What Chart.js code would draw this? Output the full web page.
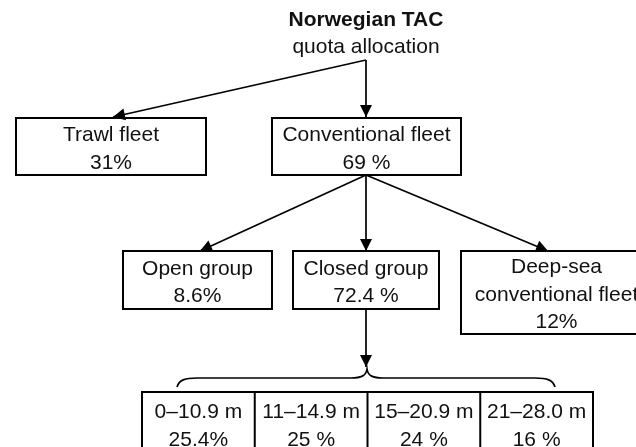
<!DOCTYPE html>
<html lang="en">
<head>
<meta charset="UTF-8" />
<title>Norwegian TAC quota allocation</title>
<script src="https://cdn.jsdelivr.net/npm/chart.js"></script>
<style>
  html, body { margin: 0; padding: 0; background: #fff; }
  canvas { display: block; }
</style>
</head>
<body>
<canvas id="tree" width="636" height="447"></canvas>
<script>
// ---- data ----
const titleLines = ['Norwegian TAC', 'quota allocation'];
const fleetNames = [['Trawl fleet'], ['Conventional fleet']];
const fleetShares = ['31%', '69 %'];
const groupNames = [['Open group'], ['Closed group'], ['Deep-sea', 'conventional fleet']];
const groupShares = ['8.6%', '72.4 %', '12%'];
const lengthNames = ['0–10.9 m', '11–14.9 m', '15–20.9 m', '21–28.0 m'];
const lengthShares = ['25.4%', '25 %', '24 %', '16 %'];

// ---- layout (axis units: x 0..636, y 0..447 top-down) ----
const rootAt = [366, 60];
const fleetBoxes = [[16, 118, 206, 175], [272, 118, 461, 175]];
const fleetTips = [113, 366];
const groupBoxes = [[123, 251, 272, 309], [293, 251, 439, 309], [461, 251, 662, 334]];
const groupTips = [200, 366, 548];
const lengthRow = [142, 392, 593, 455];
const braceSpan = [177, 555, 367];
const LINE = 27.5;
const FONT = '"Liberation Sans", Arial, sans-serif';

// arrows as line datasets: from -> tip
const arrows = [];
fleetBoxes.forEach((b, i) => arrows.push([rootAt, [fleetTips[i], b[1] - 1]]));
const convBottom = [366, fleetBoxes[1][3]];
groupBoxes.forEach((b, i) => arrows.push([convBottom, [groupTips[i], b[1]]]));
const closed = groupBoxes[1];
arrows.push([[366, closed[3]], [366, 367]]);

const datasets = arrows.map(a => ({
  data: a.map(p => ({ x: p[0], y: p[1] })),
  showLine: true,
  borderColor: '#000',
  borderWidth: 1.7,
  pointRadius: 0,
  fill: false
}));

function drawLines(ctx, lines, cx, cy, spacing) {
  const top = cy - (lines.length - 1) * spacing / 2;
  lines.forEach((t, i) => ctx.fillText(t, cx, top + i * spacing));
}

const treePlugin = {
  id: 'tree',
  afterDatasetsDraw(chart) {
    const ctx = chart.ctx;
    const sx = v => chart.scales.x.getPixelForValue(v);
    const sy = v => chart.scales.y.getPixelForValue(v);

    ctx.save();
    // arrowheads
    ctx.fillStyle = '#000';
    chart.data.datasets.forEach((ds, i) => {
      const pts = chart.getDatasetMeta(i).data;
      const a = pts[0], b = pts[pts.length - 1];
      const ang = Math.atan2(b.y - a.y, b.x - a.x);
      const len = 12, half = 6;
      ctx.beginPath();
      ctx.moveTo(b.x, b.y);
      ctx.lineTo(b.x - len * Math.cos(ang) + half * Math.sin(ang), b.y - len * Math.sin(ang) - half * Math.cos(ang));
      ctx.lineTo(b.x - len * Math.cos(ang) - half * Math.sin(ang), b.y - len * Math.sin(ang) + half * Math.cos(ang));
      ctx.closePath();
      ctx.fill();
    });

    // boxes
    ctx.strokeStyle = '#000';
    ctx.lineWidth = 2;
    const box = b => ctx.strokeRect(sx(b[0]), sy(b[1]), sx(b[2]) - sx(b[0]), sy(b[3]) - sy(b[1]));
    fleetBoxes.forEach(box);
    groupBoxes.forEach(box);
    box(lengthRow);
    const cellW = (lengthRow[2] - lengthRow[0]) / lengthNames.length;
    for (let i = 1; i < lengthNames.length; i++) {
      const x = sx(lengthRow[0] + i * cellW);
      ctx.beginPath();
      ctx.moveTo(x, sy(lengthRow[1]));
      ctx.lineTo(x, sy(lengthRow[3]));
      ctx.stroke();
    }

    // brace
    const [bl, br, bm] = braceSpan;
    const yEnd = 387, yMid = 378, yPeak = 369;
    ctx.lineWidth = 1.7;
    ctx.beginPath();
    ctx.moveTo(sx(bl), sy(yEnd));
    ctx.bezierCurveTo(sx(bl + 2), sy(yMid + 2), sx(bl + 8), sy(yMid), sx(bl + 20), sy(yMid));
    ctx.lineTo(sx(bm - 16), sy(yMid));
    ctx.bezierCurveTo(sx(bm - 6), sy(yMid), sx(bm - 1), sy(yMid - 2), sx(bm), sy(yPeak));
    ctx.bezierCurveTo(sx(bm + 1), sy(yMid - 2), sx(bm + 6), sy(yMid), sx(bm + 16), sy(yMid));
    ctx.lineTo(sx(br - 20), sy(yMid));
    ctx.bezierCurveTo(sx(br - 8), sy(yMid), sx(br - 2), sy(yMid + 2), sx(br), sy(yEnd));
    ctx.stroke();

    // texts
    ctx.fillStyle = '#111';
    ctx.textAlign = 'center';
    ctx.textBaseline = 'middle';
    ctx.font = 'bold 21px ' + FONT;
    ctx.fillText(titleLines[0], sx(rootAt[0]), sy(20));
    ctx.font = '21px ' + FONT;
    ctx.fillText(titleLines[1], sx(rootAt[0]), sy(47));

    const label = (b, lines, dx) => {
      const cx = sx((b[0] + b[2]) / 2 + (dx || 0));
      const cy = sy((b[1] + b[3]) / 2 + 2.5);
      drawLines(ctx, lines, cx, cy, LINE);
    };
    fleetBoxes.forEach((b, i) => label(b, fleetNames[i].concat(fleetShares[i])));
    groupBoxes.forEach((b, i) => label(b, groupNames[i].concat(groupShares[i]), i === 2 ? -5 : 0));
    lengthNames.forEach((n, i) => {
      const x0 = lengthRow[0] + i * cellW;
      label([x0, lengthRow[1], x0 + cellW, lengthRow[3]], [n, lengthShares[i]]);
    });
    ctx.restore();
  }
};

new Chart(document.getElementById('tree'), {
  type: 'scatter',
  data: { datasets },
  options: {
    responsive: false,
    animation: false,
    layout: { padding: 0 },
    scales: {
      x: { type: 'linear', min: 0, max: 636, display: false },
      y: { type: 'linear', min: 0, max: 447, reverse: true, display: false }
    },
    plugins: { legend: { display: false }, tooltip: { enabled: false } }
  },
  plugins: [treePlugin]
});
</script>
</body>
</html>
